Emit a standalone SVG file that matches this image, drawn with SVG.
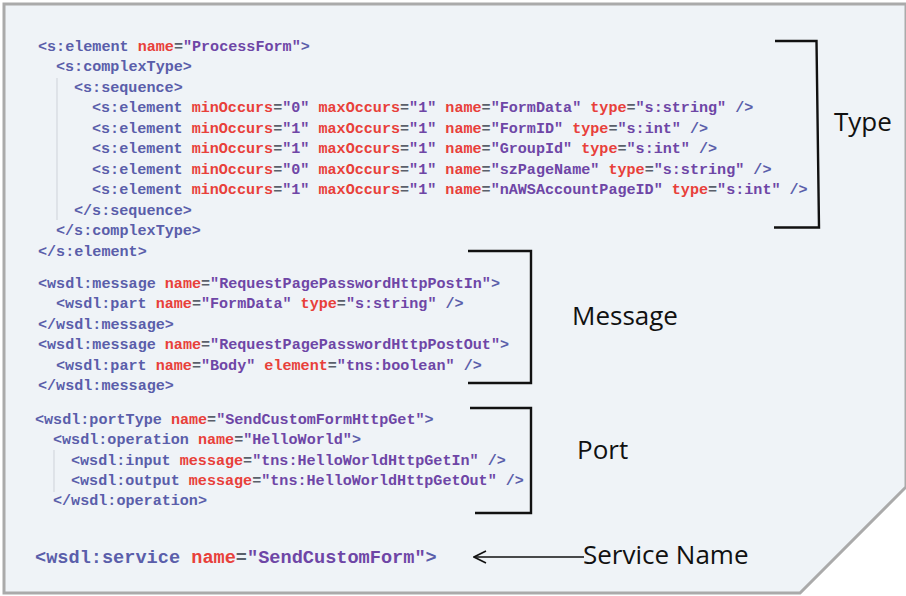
<svg xmlns="http://www.w3.org/2000/svg" width="906" height="596" viewBox="0 0 906 596">
  <style>
    .code { font-family: "Liberation Mono", "Courier New", monospace; font-size: 15.1px; font-weight: bold; fill: #5a5eaa; }
    .big { font-size: 18.6px; }
    .at { fill: #e8403a; }
    .eq { fill: #5a5f6a; }
    .val { fill: #6e46a6; }
    .label { font-family: "Open Sans", "Liberation Sans", sans-serif; font-size: 26px; fill: #111111; }
    .bracket { fill: none; stroke: #111111; stroke-width: 2.4; }
    .guide { stroke: #d3d8de; stroke-width: 1.2; }
  </style>
  <defs>
    <marker id="open-arrow" viewBox="0 0 14 14" refX="1" refY="7" markerWidth="14" markerHeight="14" markerUnits="userSpaceOnUse" orient="auto">
      <path d="M13,1 L1,7 L13,13" fill="none" stroke="#111111" stroke-width="1.6"/>
    </marker>
  </defs>

  <!-- panel with cut corner -->
  <rect width="906" height="596" fill="#ffffff"/>
  <path d="M4,4 H906 V487 L800,593 H4 Z" fill="#eff3f7" stroke="#aaaaaa" stroke-width="3"/>

  <!-- indent guides -->
  <line class="guide" x1="57" y1="78" x2="57" y2="220"/>
  <line class="guide" x1="54" y1="450" x2="54" y2="492"/>

  <g id="type-block" class="code">
    <text x="38" y="50.5">&lt;s:element <tspan class="at">name</tspan><tspan class="eq">=</tspan><tspan class="val">"ProcessForm"</tspan>&gt;</text>
    <text x="56" y="71">&lt;s:complexType&gt;</text>
    <text x="74" y="91.5">&lt;s:sequence&gt;</text>
    <text x="92" y="112">&lt;s:element <tspan class="at">minOccurs</tspan><tspan class="eq">=</tspan><tspan class="val">"0"</tspan> <tspan class="at">maxOccurs</tspan><tspan class="eq">=</tspan><tspan class="val">"1"</tspan> <tspan class="at">name</tspan><tspan class="eq">=</tspan><tspan class="val">"FormData"</tspan> <tspan class="at">type</tspan><tspan class="eq">=</tspan><tspan class="val">"s:string"</tspan> /&gt;</text>
    <text x="92" y="132.5">&lt;s:element <tspan class="at">minOccurs</tspan><tspan class="eq">=</tspan><tspan class="val">"1"</tspan> <tspan class="at">maxOccurs</tspan><tspan class="eq">=</tspan><tspan class="val">"1"</tspan> <tspan class="at">name</tspan><tspan class="eq">=</tspan><tspan class="val">"FormID"</tspan> <tspan class="at">type</tspan><tspan class="eq">=</tspan><tspan class="val">"s:int"</tspan> /&gt;</text>
    <text x="92" y="153">&lt;s:element <tspan class="at">minOccurs</tspan><tspan class="eq">=</tspan><tspan class="val">"1"</tspan> <tspan class="at">maxOccurs</tspan><tspan class="eq">=</tspan><tspan class="val">"1"</tspan> <tspan class="at">name</tspan><tspan class="eq">=</tspan><tspan class="val">"GroupId"</tspan> <tspan class="at">type</tspan><tspan class="eq">=</tspan><tspan class="val">"s:int"</tspan> /&gt;</text>
    <text x="92" y="173.5">&lt;s:element <tspan class="at">minOccurs</tspan><tspan class="eq">=</tspan><tspan class="val">"0"</tspan> <tspan class="at">maxOccurs</tspan><tspan class="eq">=</tspan><tspan class="val">"1"</tspan> <tspan class="at">name</tspan><tspan class="eq">=</tspan><tspan class="val">"szPageName"</tspan> <tspan class="at">type</tspan><tspan class="eq">=</tspan><tspan class="val">"s:string"</tspan> /&gt;</text>
    <text x="92" y="194">&lt;s:element <tspan class="at">minOccurs</tspan><tspan class="eq">=</tspan><tspan class="val">"1"</tspan> <tspan class="at">maxOccurs</tspan><tspan class="eq">=</tspan><tspan class="val">"1"</tspan> <tspan class="at">name</tspan><tspan class="eq">=</tspan><tspan class="val">"nAWSAccountPageID"</tspan> <tspan class="at">type</tspan><tspan class="eq">=</tspan><tspan class="val">"s:int"</tspan> /&gt;</text>
    <text x="74" y="214.5">&lt;/s:sequence&gt;</text>
    <text x="56" y="235">&lt;/s:complexType&gt;</text>
    <text x="38" y="255.5">&lt;/s:element&gt;</text>
  </g>

  <g id="message-block" class="code">
    <text x="38" y="287.5">&lt;wsdl:message <tspan class="at">name</tspan><tspan class="eq">=</tspan><tspan class="val">"RequestPagePasswordHttpPostIn"</tspan>&gt;</text>
    <text x="56" y="308">&lt;wsdl:part <tspan class="at">name</tspan><tspan class="eq">=</tspan><tspan class="val">"FormData"</tspan> <tspan class="at">type</tspan><tspan class="eq">=</tspan><tspan class="val">"s:string"</tspan> /&gt;</text>
    <text x="38" y="328.5">&lt;/wsdl:message&gt;</text>
    <text x="38" y="349">&lt;wsdl:message <tspan class="at">name</tspan><tspan class="eq">=</tspan><tspan class="val">"RequestPagePasswordHttpPostOut"</tspan>&gt;</text>
    <text x="56" y="369.5">&lt;wsdl:part <tspan class="at">name</tspan><tspan class="eq">=</tspan><tspan class="val">"Body"</tspan> <tspan class="at">element</tspan><tspan class="eq">=</tspan><tspan class="val">"tns:boolean"</tspan> /&gt;</text>
    <text x="38" y="390">&lt;/wsdl:message&gt;</text>
  </g>

  <g id="port-block" class="code">
    <text x="35" y="423.5">&lt;wsdl:portType <tspan class="at">name</tspan><tspan class="eq">=</tspan><tspan class="val">"SendCustomFormHttpGet"</tspan>&gt;</text>
    <text x="53" y="444">&lt;wsdl:operation <tspan class="at">name</tspan><tspan class="eq">=</tspan><tspan class="val">"HelloWorld"</tspan>&gt;</text>
    <text x="71" y="464.5">&lt;wsdl:input <tspan class="at">message</tspan><tspan class="eq">=</tspan><tspan class="val">"tns:HelloWorldHttpGetIn"</tspan> /&gt;</text>
    <text x="71" y="485">&lt;wsdl:output <tspan class="at">message</tspan><tspan class="eq">=</tspan><tspan class="val">"tns:HelloWorldHttpGetOut"</tspan> /&gt;</text>
    <text x="53" y="505">&lt;/wsdl:operation&gt;</text>
  </g>

  <g id="service-block" class="code big">
    <text x="35" y="563">&lt;wsdl:service <tspan class="at">name</tspan><tspan class="eq">=</tspan><tspan class="val">"SendCustomForm"</tspan>&gt;</text>
  </g>

  <g id="label-type"><text class="label" x="834" y="131">Type</text></g>
  <g id="label-message"><text class="label" x="572" y="325">Message</text></g>
  <g id="label-port"><text class="label" x="577" y="459">Port</text></g>
  <g id="label-service"><text class="label" x="583" y="564">Service Name</text></g>

  <g id="connectors">
    <path class="bracket" d="M775,41 H816.5 L819,227.5 H774"/>
    <path class="bracket" d="M468,251 H531 V383 H468"/>
    <path class="bracket" d="M470,408 H531 V513 H475"/>
    <line x1="474" y1="557" x2="584" y2="557" stroke="#111111" stroke-width="1.6" marker-start="url(#open-arrow)"/>
  </g>
</svg>
